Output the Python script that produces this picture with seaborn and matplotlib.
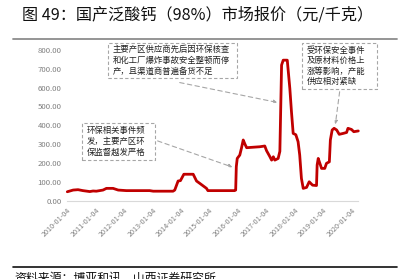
import matplotlib
matplotlib.use("Agg")
import matplotlib.pyplot as plt
import matplotlib.dates as mdates
from matplotlib.patches import Rectangle, FancyArrowPatch
from matplotlib.lines import Line2D
import seaborn as sns
import pandas as pd

title = "图 49：国产泛酸钙（98%）市场报价（元/千克）"
source = "资料来源：博亚和讯，山西证券研究所"
note1 = "主要产区供应商先后因环保核查\n和化工厂爆炸事故安全整顿而停\n产，且渠道商普遍备货不足"
note2 = "环保相关事件频\n发，主要产区环\n保监督越发严格"
note3 = "受环保安全事件\n及原材料价格上\n涨等影响，产能\n供应相对紧缺"

dates = ["2010-01-04", "2010-03-20", "2010-05-22", "2010-07-23", "2010-10-20", "2010-12-01",
         "2011-01-12", "2011-04-08", "2011-05-22", "2011-08-15", "2011-10-20", "2012-02-02",
         "2012-11-28", "2013-01-12", "2013-09-24", "2013-10-16", "2013-11-28", "2013-12-28",
         "2014-02-10", "2014-06-10", "2014-07-23", "2014-09-01", "2014-11-28", "2014-12-16",
         "2015-11-24", "2015-12-08", "2015-12-16", "2015-12-28", "2016-01-30", "2016-02-20",
         "2016-03-14", "2016-04-05", "2016-04-27", "2016-10-12", "2016-12-16", "2017-01-08",
         "2017-02-20", "2017-03-14", "2017-04-05", "2017-04-24", "2017-06-06", "2017-06-28",
         "2017-07-20", "2017-08-10", "2017-10-01", "2017-11-03", "2017-11-24", "2017-12-16",
         "2018-01-19", "2018-02-17", "2018-03-10", "2018-04-01", "2018-04-24", "2018-06-06",
         "2018-07-10", "2018-08-22", "2018-10-12", "2018-10-20", "2018-11-03", "2018-11-24",
         "2018-12-16", "2019-01-26", "2019-02-17", "2019-03-26", "2019-04-08", "2019-05-01",
         "2019-05-26", "2019-06-28", "2019-07-31", "2019-09-20", "2019-11-03", "2019-11-20",
         "2020-01-04", "2020-02-03", "2020-04-01"]
prices = [47, 56, 58, 53, 48, 51,
          50, 56, 65, 65, 56, 53,
          53, 50, 50, 56, 104, 106,
          140, 140, 104, 92, 65, 53,
          53, 56, 180, 224, 242, 278,
          322, 300, 281, 286, 290, 265,
          233, 215, 233, 215, 224, 262,
          720, 746, 746, 596, 472, 357,
          350, 313, 242, 118, 65, 70,
          100, 82, 80, 189, 224, 198,
          171, 171, 198, 206, 322, 375,
          384, 375, 352, 357, 362, 384,
          378, 366, 370]
tick_labels = ["2010-01-04", "2011-01-04", "2012-01-04", "2013-01-04", "2014-01-04", "2015-01-04",
               "2016-01-04", "2017-01-04", "2018-01-04", "2019-01-04", "2020-01-04"]
y_ticks = [0, 100, 200, 300, 400, 500, 600, 700, 800]

sns.set_style("white")
plt.rcParams['font.family'] = ['Noto Sans CJK SC', 'DejaVu Sans']

W, H = 409, 279
fig = plt.figure(figsize=(W / 100, H / 100), dpi=100)

def fx(px):
    return px / W

def fy(py):
    return 1 - py / H

ax = fig.add_axes([fx(67.3), fy(200.6), fx(358.3) - fx(67.3), fy(50) - fy(200.6)])
df = pd.DataFrame({"date": pd.to_datetime(dates), "price": prices})
sns.lineplot(data=df, x="date", y="price", ax=ax, color="#C00000", linewidth=2.0)
for l in ax.lines:
    l.set_clip_on(False)

ax.set_xlim(df["date"].iloc[0], df["date"].iloc[-1])
ax.set_ylim(0, 800)
ax.set_yticks(y_ticks)
ax.set_yticklabels([f"{v:.2f}" for v in y_ticks])
ax.set_xticks(pd.to_datetime(tick_labels))
ax.set_xticklabels(tick_labels, rotation=45, ha="right", rotation_mode="anchor")
ax.set_xlabel("")
ax.set_ylabel("")
for s in ["top", "right", "left"]:
    ax.spines[s].set_visible(False)
ax.spines["bottom"].set_color("#d9d9d9")
ax.spines["bottom"].set_linewidth(0.8)
ax.tick_params(axis="y", length=0, labelsize=5.6, labelcolor="#7f7f7f", pad=4)
ax.tick_params(axis="x", length=3, width=0.6, color="#d9d9d9", direction="out",
               labelsize=5.2, labelcolor="#7f7f7f", pad=1)
ax.grid(False)

# header and footer
fig.text(fx(22), fy(15), title, fontsize=11.6, va="center", ha="left", color="#111111")
fig.add_artist(Line2D([fx(13), fx(397)], [fy(39), fy(39)], color="#8c8c8c", linewidth=1.3))
fig.add_artist(Line2D([fx(13), fx(397)], [fy(266.7), fy(266.7)], color="#111111", linewidth=1.2))
fig.text(fx(14), fy(272), source, fontsize=8.6, va="top", ha="left", color="#111111")

def box(x0, y0, x1, y1, text, ls=1.25):
    fig.add_artist(Rectangle((fx(x0), fy(y1)), fx(x1) - fx(x0), fy(y0) - fy(y1),
                             transform=fig.transFigure, facecolor="white",
                             edgecolor="#a6a6a6", linewidth=0.8, linestyle=(0, (3, 2))))
    fig.text(fx(x0 + 5), fy((y0 + y1) / 2), text, fontsize=6, va="center", ha="left",
             color="#222222", linespacing=ls)

def arrow(x0, y0, x1, y1):
    fig.add_artist(FancyArrowPatch((fx(x0), fy(y0)), (fx(x1), fy(y1)), transform=fig.transFigure,
                                   arrowstyle="-|>", mutation_scale=5, color="#a6a6a6",
                                   linewidth=0.8, linestyle=(0, (4, 3))))

box(108, 43, 237, 78, note1)
box(82, 123, 155, 160, note2)
box(302, 43, 377, 89, note3, ls=1.2)
arrow(177, 82, 280, 103)
arrow(155, 140, 235, 168)
arrow(340, 89, 335, 127)

fig.savefig("out.png", dpi=100)
